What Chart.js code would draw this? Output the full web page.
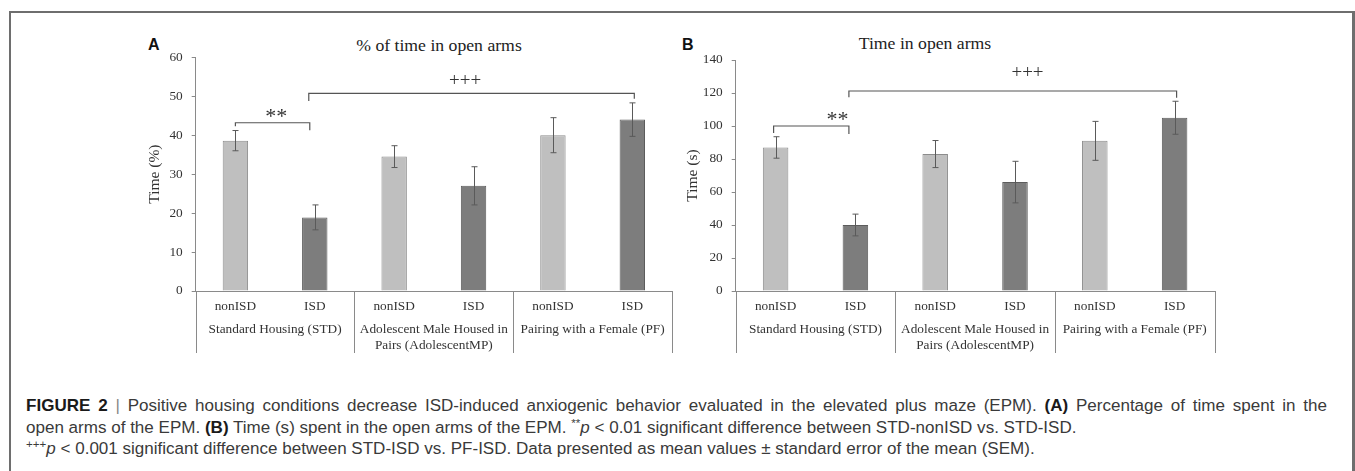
<!DOCTYPE html>
<html><head><meta charset="utf-8">
<script src="https://cdn.jsdelivr.net/npm/chart.js@4.4.1/dist/chart.umd.min.js"></script>
<style>
html,body{margin:0;padding:0;background:#fff;width:1355px;height:471px;overflow:hidden;position:relative}
#frame{position:absolute;left:9px;top:11px;width:1346px;height:520px;border:2px solid #6e6e6e;box-sizing:border-box;border-right-width:3px}
.cv{position:absolute}
.panel{position:absolute;font:bold 16px "Liberation Sans",Arial,sans-serif;line-height:16px;color:#111}
.title{position:absolute;font:17.7px "Liberation Serif","Times New Roman",serif;line-height:20px;color:#222;white-space:nowrap;transform:translateX(-50%)}
.cap{position:absolute;left:26px;font-family:"Liberation Sans",Arial,sans-serif;font-size:16px;line-height:20px;color:#3a3a3a;white-space:nowrap}
.cap b{color:#1a1a1a}
.cap .bar{color:#888;font-weight:normal}
.cap sup{font-size:0.68em;line-height:0;vertical-align:0.55em}
</style>
</head><body>
<div id="frame"></div>
<div class="panel" style="left:148px;top:37px">A</div>
<div class="panel" style="left:682px;top:37px">B</div>
<div class="title" style="left:439px;top:35px">% of time in open arms</div>
<div class="title" style="left:925px;top:33px">Time in open arms</div>
<canvas id="chartA" class="cv" width="580" height="340" style="left:110px;top:30px"></canvas>
<canvas id="chartB" class="cv" width="580" height="340" style="left:650px;top:30px"></canvas>
<div class="cap" id="c1" style="top:396px"><b>FIGURE 2</b> <span class="bar">|</span> Positive housing conditions decrease ISD-induced anxiogenic behavior evaluated in the elevated plus maze (EPM). <b>(A)</b> Percentage of time spent in the</div>
<div class="cap" id="c2" style="top:417.5px">open arms of the EPM. <b>(B)</b> Time (s) spent in the open arms of the EPM. <sup>**</sup><i>p</i> &lt; 0.01 significant difference between STD-nonISD vs. STD-ISD.</div>
<div class="cap" id="c3" style="top:439px"><sup>+++</sup><i>p</i> &lt; 0.001 significant difference between STD-ISD vs. PF-ISD. Data presented as mean values ± standard error of the mean (SEM).</div>
<script>
// ---- data ----
const categories = ['nonISD', 'ISD', 'nonISD', 'ISD', 'nonISD', 'ISD'];
const groupLabels = ['Standard Housing (STD)', ['Adolescent Male Housed in', 'Pairs (AdolescentMP)'], 'Pairing with a Female (PF)'];
const pctTimeMean = [38.6, 18.9, 34.5, 27.0, 40.0, 44.0];
const pctTimeSem = [2.6, 3.2, 2.8, 4.9, 4.5, 4.3];
const timeMean = [87, 40, 83, 66, 91, 105];
const timeSem = [6.5, 6.6, 8.2, 12.6, 11.8, 10.0];
const pctTicks = [0, 10, 20, 30, 40, 50, 60];
const timeTicks = [0, 20, 40, 60, 80, 100, 120, 140];

// ---- styles ----
const SERIF = "'Liberation Serif', 'Times New Roman', serif";
const AXIS = '#8a8a8a';
const TXT = '#333';
const LIGHT = '#bfbfbf', LIGHT_B = '#8c8c8c';
const DARK = '#7d7d7d', DARK_B = '#5c5c5c';

const extras = {
  id: 'extras',
  afterDraw(chart, args, opts) {
    const ctx = chart.ctx;
    const y = chart.scales.y, x = chart.scales.x;
    const meta = chart.getDatasetMeta(0);
    const vals = chart.data.datasets[0].data;
    const ca = chart.chartArea;
    ctx.save();
    // separators of group axis
    ctx.strokeStyle = AXIS; ctx.lineWidth = 1;
    const xs = [ca.left];
    for (let g = 1; g < groupLabels.length; g++) {
      xs.push((x.getPixelForValue(2 * g - 1) + x.getPixelForValue(2 * g)) / 2);
    }
    xs.push(ca.right);
    ctx.beginPath();
    xs.forEach(px => { const p = Math.round(px) + 0.5; ctx.moveTo(p, ca.bottom); ctx.lineTo(p, ca.bottom + opts.sepLength); });
    ctx.stroke();
    // error bars
    ctx.strokeStyle = '#5a5a5a'; ctx.lineWidth = 1;
    opts.sem.forEach((s, i) => {
      const px = Math.round(meta.data[i].x) + 0.5;
      const yt = y.getPixelForValue(vals[i] + s), yb = y.getPixelForValue(vals[i] - s);
      ctx.beginPath();
      ctx.moveTo(px, yt); ctx.lineTo(px, yb);
      ctx.moveTo(px - 3, yt); ctx.lineTo(px + 3, yt);
      ctx.moveTo(px - 3, yb); ctx.lineTo(px + 3, yb);
      ctx.stroke();
    });
    // significance brackets
    ctx.strokeStyle = '#555'; ctx.lineWidth = 1.2; ctx.fillStyle = '#333';
    ctx.textAlign = 'center'; ctx.textBaseline = 'alphabetic';
    opts.brackets.forEach(b => {
      const x1 = meta.data[b.from].x + b.dx1, x2 = meta.data[b.to].x + b.dx2;
      const yl = y.getPixelForValue(b.level);
      ctx.beginPath();
      ctx.moveTo(x1, yl + b.dropL); ctx.lineTo(x1, yl); ctx.lineTo(x2, yl); ctx.lineTo(x2, yl + b.dropR);
      ctx.stroke();
      ctx.font = b.fontSize + 'px ' + SERIF;
      ctx.fillText(b.text, x1 + (x2 - x1) * b.at, yl - b.gap);
    });
    ctx.restore();
  }
};

function makeChart(id, mean, sem, ticks, yTitle, titlePad, pad, brackets) {
  return new Chart(document.getElementById(id), {
    type: 'bar',
    data: {
      labels: categories,
      datasets: [{
        data: mean,
        backgroundColor: categories.map(c => c === 'ISD' ? DARK : LIGHT),
        borderColor: categories.map(c => c === 'ISD' ? DARK_B : LIGHT_B),
        borderWidth: 1,
        barPercentage: 0.32,
        categoryPercentage: 1
      }]
    },
    options: {
      responsive: false, animation: false, devicePixelRatio: 1,
      layout: { padding: pad },
      plugins: {
        legend: { display: false }, tooltip: { enabled: false }, title: { display: false },
        extras: { sem: sem, brackets: brackets, sepLength: 62 }
      },
      scales: {
        x: {
          type: 'category', position: 'bottom', offset: true,
          grid: { display: false, drawTicks: false },
          border: { display: true, color: AXIS, width: 1 },
          ticks: { font: { family: SERIF, size: 13.3 }, color: TXT, padding: 8, maxRotation: 0, autoSkip: false },
          afterFit(s) { s.height = 28; }
        },
        x2: {
          type: 'category', labels: groupLabels, position: 'bottom', offset: true,
          grid: { display: false, drawTicks: false },
          border: { display: false },
          ticks: { font: { family: SERIF, size: 13.3 }, color: TXT, padding: 3, maxRotation: 0, autoSkip: false },
          afterFit(s) { s.height = 40; }
        },
        y: {
          min: ticks[0], max: ticks[ticks.length - 1],
          afterBuildTicks(s) { s.ticks = ticks.map(v => ({ value: v })); },
          ticks: { font: { family: SERIF, size: 13.3 }, color: TXT, padding: 9 },
          grid: { display: true, drawOnChartArea: false, drawTicks: true, tickLength: 4, color: AXIS },
          border: { display: true, color: AXIS, width: 1 },
          title: { display: true, text: yTitle, font: { family: SERIF, size: 15.5 }, color: TXT, padding: { top: titlePad, bottom: 0 } },
          afterFit(s) { s.width = 85.7; }
        }
      }
    },
    plugins: [extras]
  });
}

makeChart('chartA', pctTimeMean, pctTimeSem, pctTicks, 'Time (%)', 35.7,
  { top: 27.3, left: 0, right: 18, bottom: 11 },
  [
    { from: 0, to: 1, dx1: 0, dx2: -5, level: 43.2, dropL: 3.5, dropR: 7.5, text: '**', at: 0.55, gap: 0, fontSize: 22 },
    { from: 1, to: 5, dx1: -6, dx2: 2, level: 50.75, dropL: 7.7, dropR: 5.5, text: '+++', at: 0.48, gap: 7, fontSize: 19 }
  ]);
makeChart('chartB', timeMean, timeSem, timeTicks, 'Time (s)', 33.7,
  { top: 30, left: 0, right: 15.5, bottom: 11 },
  [
    { from: 0, to: 1, dx1: -2, dx2: -6.5, level: 100, dropL: 7, dropR: 8, text: '**', at: 0.85, gap: 0.5, fontSize: 22 },
    { from: 1, to: 5, dx1: -6.5, dx2: 2, level: 121.2, dropL: 6.3, dropR: 6.7, text: '+++', at: 0.545, gap: 13, fontSize: 19 }
  ]);

// caption: size from the last (unjustified) line, then justify the first line
(function fitCaption() {
  const ids = ['c1', 'c2', 'c3'];
  const els = ids.map(id => document.getElementById(id));
  const w3 = els[2].getBoundingClientRect().width;
  const fs = 16 * 1010 / w3;
  els.forEach(e => { e.style.fontSize = fs.toFixed(2) + 'px'; });
  const l1 = els[0];
  const w1 = l1.getBoundingClientRect().width;
  const spaces = (l1.textContent.match(/ /g) || []).length;
  l1.style.wordSpacing = ((1301 - w1) / spaces).toFixed(3) + 'px';
})();
</script>
</body></html>
